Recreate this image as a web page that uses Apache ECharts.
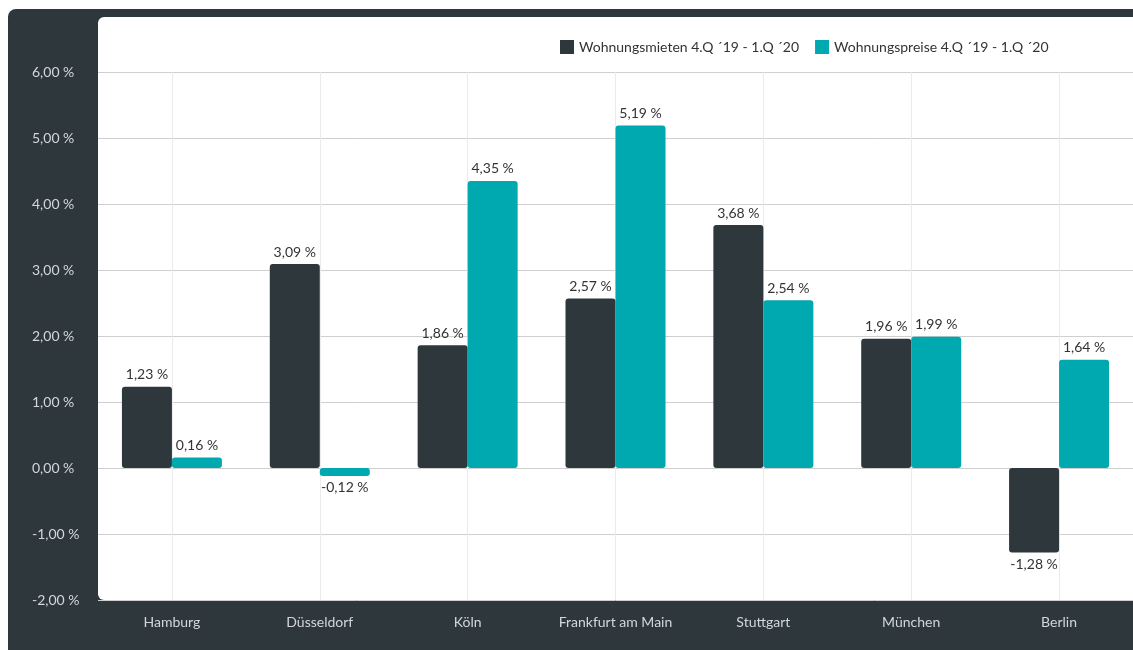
<!DOCTYPE html>
<html>
<head>
<meta charset="utf-8">
<script src="https://cdn.jsdelivr.net/npm/echarts@6/dist/echarts.min.js"></script>
<style>
  html, body { margin: 0; padding: 0; background: #fff; }
  #main { width: 1133px; height: 650px; }
</style>
</head>
<body>
<div id="main"></div>
<script>
var cities = ['Hamburg', 'Düsseldorf', 'Köln', 'Frankfurt am Main', 'Stuttgart', 'München', 'Berlin'];
var mieten = [1.23, 3.09, 1.86, 2.57, 3.68, 1.96, -1.28];
var preise = [0.16, -0.12, 4.35, 5.19, 2.54, 1.99, 1.64];
var seriesNames = ['Wohnungsmieten 4.Q \u00b419 - 1.Q \u00b420', 'Wohnungspreise 4.Q \u00b419 - 1.Q \u00b420'];

var dark = '#2e373c';
var teal = '#00a8b0';
var font = 'Lato, "Noto Sans", sans-serif';

const fmt = v => v.toFixed(2).replace('.', ',') + ' %';

const toItems = arr => arr.map(v => ({
    value: v,
    label: { position: v < 0 ? 'bottom' : 'top' }
}));

var chart = echarts.init(document.getElementById('main'));

var option = {
    backgroundColor: '#fff',
    textStyle: { fontFamily: font },
    graphic: [{
        type: 'rect',
        z: -10,
        silent: true,
        shape: { x: 8, y: 9, width: 1140, height: 660, r: 8 },
        style: { fill: dark }
    }, {
        type: 'rect',
        z: -9,
        silent: true,
        shape: { x: 98, y: 17, width: 1045, height: 583, r: [6, 0, 0, 6] },
        style: { fill: '#fff' }
    }],
    legend: {
        left: 555,
        top: 35,
        itemWidth: 14,
        itemHeight: 14,
        itemGap: 16,
        icon: 'rect',
        textStyle: { color: '#333', fontSize: 14, fontFamily: font },
        data: seriesNames
    },
    grid: {
        left: 98,
        top: 72,
        width: 1040,
        height: 528,
        containLabel: false
    },
    xAxis: {
        type: 'category',
        data: cities,
        axisLine: { show: false },
        axisTick: { show: false },
        axisLabel: { color: '#d3d7d9', fontSize: 14, margin: 15, fontFamily: font },
        splitLine: { show: true, alignWithLabel: true, lineStyle: { color: '#ebebeb', width: 1 } }
    },
    yAxis: {
        type: 'value',
        min: -2,
        max: 6,
        interval: 1,
        axisLine: { show: false },
        axisTick: { show: false },
        axisLabel: {
            color: '#d3d7d9',
            fontSize: 14,
            align: 'left',
            margin: 66,
            fontFamily: font,
            formatter: fmt
        },
        splitLine: { lineStyle: { color: '#cfcfcf', width: 1 } }
    },
    series: [{
        name: seriesNames[0],
        type: 'bar',
        barWidth: 50,
        barGap: '0%',
        itemStyle: { color: dark, borderRadius: 3 },
        label: { show: true, distance: 5, color: '#333', fontSize: 14, fontFamily: font, formatter: p => fmt(p.value) },
        data: toItems(mieten)
    }, {
        name: seriesNames[1],
        type: 'bar',
        barWidth: 50,
        barGap: '0%',
        itemStyle: { color: teal, borderRadius: 3 },
        label: { show: true, distance: 5, color: '#333', fontSize: 14, fontFamily: font, formatter: p => fmt(p.value) },
        data: toItems(preise)
    }]
};
chart.setOption(option);
</script>
</body>
</html>
